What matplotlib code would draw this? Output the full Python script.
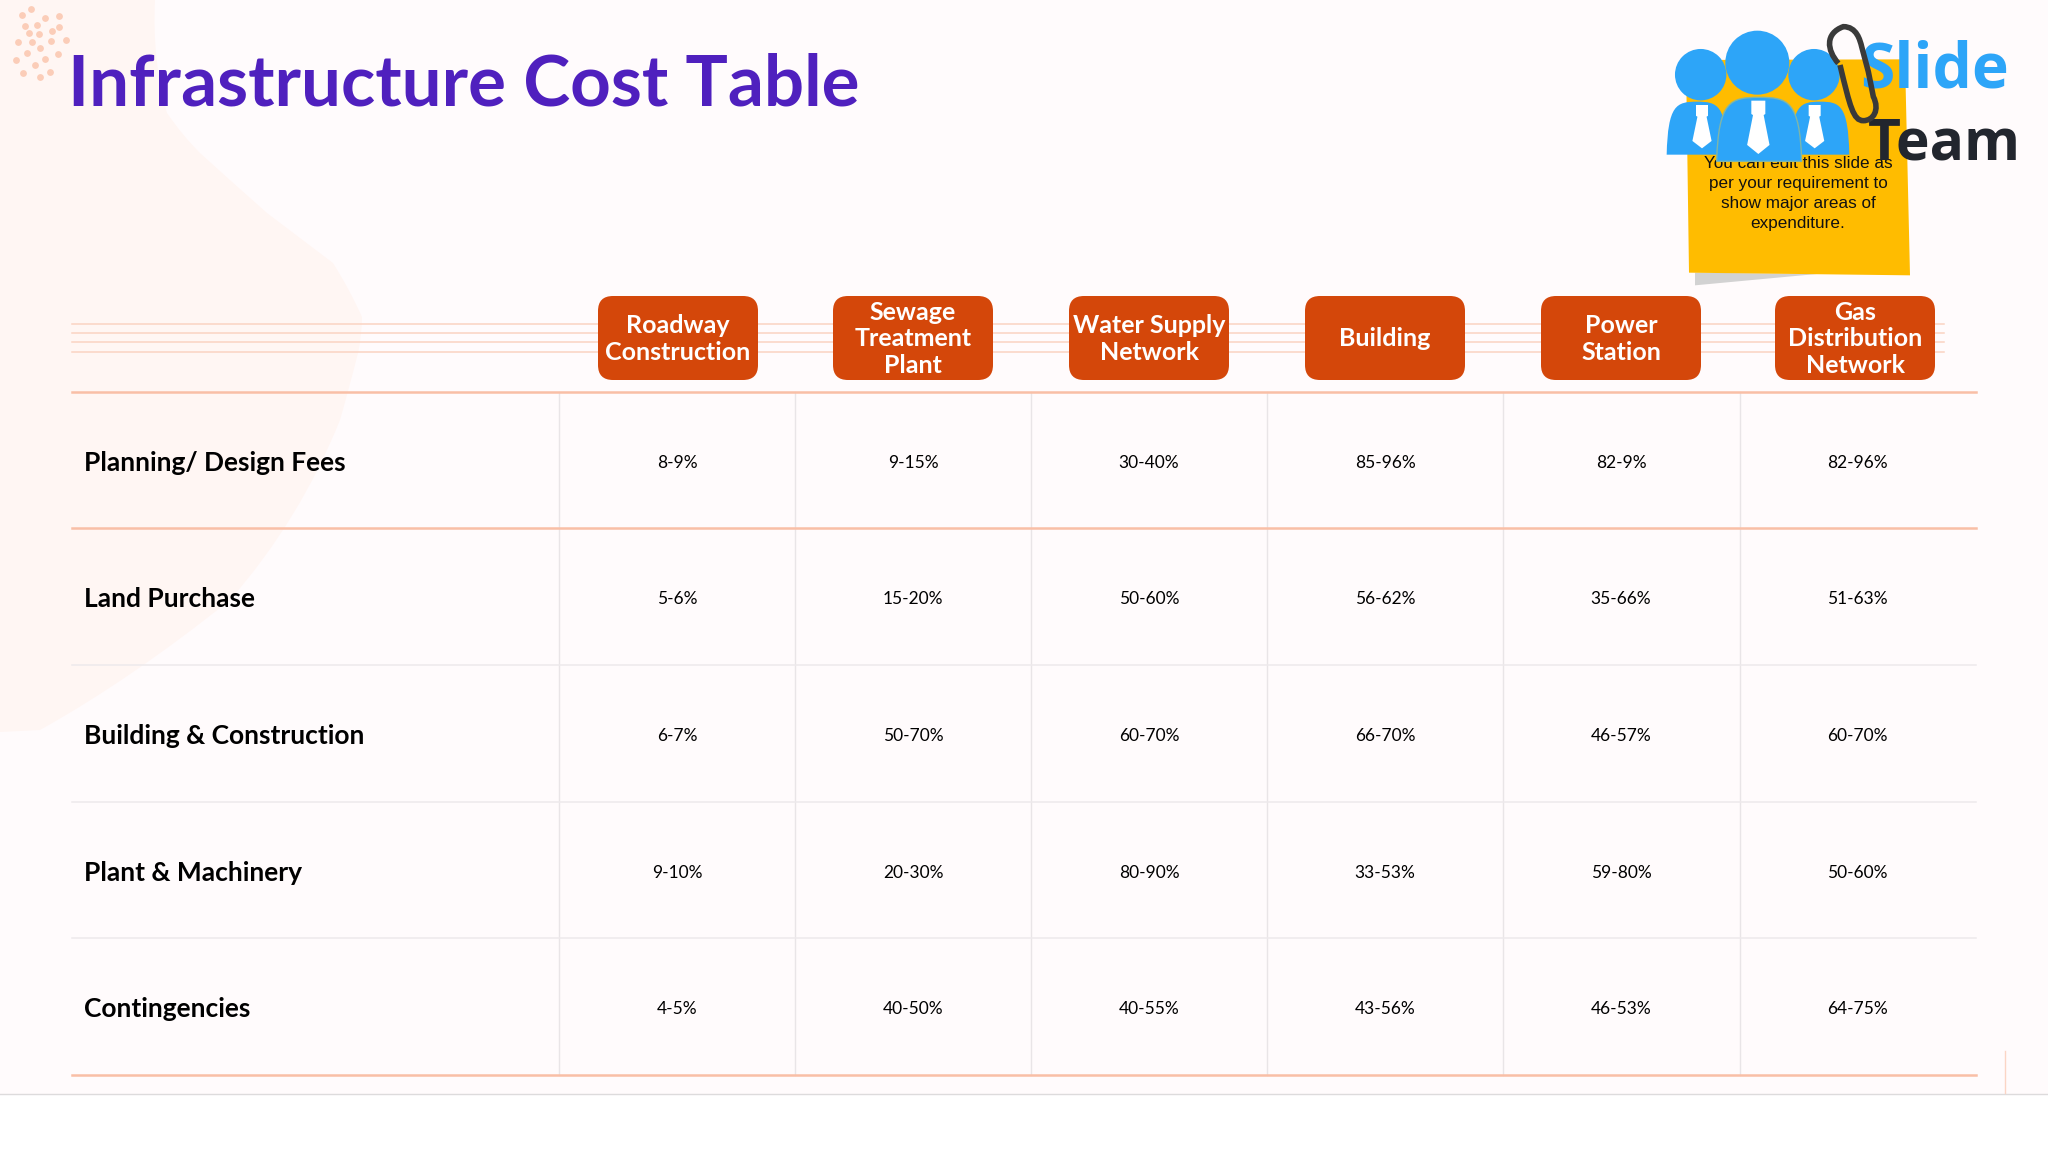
import matplotlib
matplotlib.use("Agg")
import matplotlib.pyplot as plt
from matplotlib.patches import FancyBboxPatch, PathPatch, Polygon, Circle, Rectangle
from matplotlib.path import Path

title = "Infrastructure Cost Table"
columns = ["Roadway\nConstruction", "Sewage\nTreatment\nPlant", "Water Supply\nNetwork",
           "Building", "Power\nStation", "Gas\nDistribution\nNetwork"]
rows = ["Planning/ Design Fees", "Land Purchase", "Building & Construction",
        "Plant & Machinery", "Contingencies"]
roadway = ["8-9%", "5-6%", "6-7%", "9-10%", "4-5%"]
sewage = ["9-15%", "15-20%", "50-70%", "20-30%", "40-50%"]
water = ["30-40%", "50-60%", "60-70%", "80-90%", "40-55%"]
building = ["85-96%", "56-62%", "66-70%", "33-53%", "43-56%"]
power = ["82-9%", "35-66%", "46-57%", "59-80%", "46-53%"]
gas = ["82-96%", "51-63%", "60-70%", "50-60%", "64-75%"]
note = "You can edit this slide as\nper your requirement to\nshow major areas of\nexpenditure."

# pixel layout of the slide
col_centers = [677, 913, 1149, 1385, 1621, 1857]
box_centers = [678, 913, 1149, 1385, 1621, 1855]
col_lines = [559, 795, 1031, 1267, 1503, 1740]
row_lines = [392, 528, 665, 802, 938, 1075]
row_centers = [463, 599, 736, 873, 1009]

ORANGE = "#D4470A"
LINE = "#F9BFA6"
PURPLE = "#4F20BE"
BLUE = "#2DA5F8"
GOLD = "#FFBC00"

fig = plt.figure(figsize=(20.48, 11.52), dpi=100)
ax = fig.add_axes([0, 0, 1, 1])
ax.set_xlim(0, 2048)
ax.set_ylim(1152, 0)
ax.axis("off")

# background
ax.add_patch(Rectangle((0, 0), 2048, 1094, fc="#FFFBFC", ec="none", zorder=0))
blob = [(0, 0), (155, 0), (152, 60), (167, 113), (182, 135), (200, 153), (233, 183), (267, 213),
        (300, 238), (333, 263), (350, 290), (362, 317), (362, 335), (358, 353), (350, 385), (340, 420),
        (300, 520), (230, 600), (130, 680), (40, 730), (0, 732)]
codes = [Path.MOVETO, Path.LINETO] + [Path.CURVE3] * 18 + [Path.LINETO]
ax.add_patch(PathPatch(Path(blob, codes), fc="#FFF6F3", ec="none", zorder=0.5))
ax.plot([0, 2048], [1094, 1094], color="#DDDBDC", lw=1, zorder=1)
ax.plot([2005, 2005], [1051, 1093], color="#FBD5C5", lw=1, zorder=1)

# speckle top left
dots_x = [31, 22, 45, 59, 25, 37, 59, 29, 39, 52, 18, 32, 51, 66, 40, 27, 58, 16, 45, 35, 23, 40, 50]
dots_y = [9, 15, 18, 16, 26, 25, 27, 33, 34, 31, 42, 42, 41, 40, 48, 53, 54, 60, 59, 65, 73, 77, 72]
ax.scatter(dots_x, dots_y, s=24, color="#FBCDB8", linewidths=0, zorder=1)

ax.text(68, 106, title, family="Lato", weight="bold", fontsize=51, color=PURPLE, va="baseline", ha="left", zorder=5)

# header stripes
for y in [324, 333, 342, 352]:
    ax.plot([72, 1944], [y, y], color="#FAD3C2", lw=1.1, zorder=1)

# table grid
for i, y in enumerate(row_lines):
    if i < 2 or i == 5:
        ax.plot([72, 1976], [y, y], color=LINE, lw=1.8, zorder=2)
    else:
        ax.plot([72, 1976], [y, y], color="#EEEAEC", lw=1.1, zorder=2)
for x in col_lines:
    ax.plot([x, x], [392, 1075], color="#E9E5E7", lw=1.0, zorder=1.5)

for x, label in zip(box_centers, columns):
    ax.add_patch(FancyBboxPatch((x - 80, 296), 160, 84, boxstyle="round,pad=0,rounding_size=15",
                                fc=ORANGE, ec="none", zorder=3))
    ax.text(x, 339, label, family="Lato", weight="bold", fontsize=18, color="white",
            ha="center", va="center", linespacing=1.2, zorder=4)

table = [roadway, sewage, water, building, power, gas]
for r, label in enumerate(rows):
    ax.text(84, row_centers[r], label, family="Lato", weight="bold", fontsize=19, color="black",
            ha="left", va="center", zorder=4)
    for c, series in enumerate(table):
        ax.text(col_centers[c], row_centers[r], series[r], family="Lato", fontsize=12.5, color="black",
                ha="center", va="center", zorder=4)

# sticky note
def z(x, y):
    return (1640 + x / 3, y / 3)

ax.add_patch(Polygon([z(165, 818), z(165, 856), z(530, 822)], fc="#D2D2D2", ec="none", zorder=5))
ax.add_patch(Polygon([z(138, 180), z(795, 178), z(810, 826), z(147, 818)], fc=GOLD, ec="none", zorder=5.5))
ax.text(1798, 193.5, note, family="Liberation Sans", fontsize=12.3, color="#111111", ha="center", va="center",
        linespacing=1.43, zorder=6)

# logo text
ax.text(1860, 87, "Slide", family="Open Sans", weight="bold", fontsize=45, color=BLUE, ha="left", va="baseline", zorder=7)
ax.text(1868, 160, "Team", family="Open Sans", weight="bold", fontsize=41, color="#22262E", ha="left", va="baseline", zorder=7)

# people
def body(x0, x1, top, bottom, zorder, edge="none"):
    mid = (x0 + x1) / 2
    w = x1 - x0
    h = bottom - top
    verts = [z(x0, bottom), z(x0 + w * 0.02, top + h * 0.06), z(mid - w * 0.34, top), z(mid, top),
             z(mid + w * 0.34, top), z(x1 - w * 0.02, top + h * 0.06), z(x1, bottom), z(x0, bottom)]
    c = [Path.MOVETO, Path.CURVE4, Path.CURVE4, Path.CURVE4, Path.CURVE4, Path.CURVE4, Path.CURVE4, Path.CLOSEPOLY]
    ax.add_patch(PathPatch(Path(verts, c), fc=BLUE, ec=edge, lw=1, zorder=zorder))

def tie(cx, top, h, w, zorder):
    ax.add_patch(Polygon([z(cx - w * 0.5, top), z(cx + w * 0.5, top), z(cx + w * 0.5, top + h * 0.25),
                          z(cx + w * 0.38, top + h * 0.27), z(cx + w * 0.8, top + h * 0.83), z(cx, top + h),
                          z(cx - w * 0.8, top + h * 0.83), z(cx - w * 0.38, top + h * 0.27), z(cx - w * 0.5, top + h * 0.25)],
                         fc="white", ec="none", zorder=zorder))

body(80, 262, 305, 464, 8)
body(452, 628, 305, 464, 8)
tie(186, 315, 130, 36, 8.2)
tie(524, 315, 130, 36, 8.2)
ax.add_patch(Circle(z(182, 224), 25.7, fc=BLUE, ec="none", zorder=8))
ax.add_patch(Circle(z(522, 224), 25.7, fc=BLUE, ec="none", zorder=8))
ax.add_patch(Circle(z(352, 188), 32, fc=BLUE, ec="none", zorder=8.5))
body(230, 485, 292, 484, 8.5, edge="#7FB6A8")
tie(355, 302, 160, 42, 8.7)

# paperclip
clip = [z(595, 190), z(560, 150), z(555, 100), z(610, 80), z(650, 80), z(660, 120), z(665, 140),
        z(685, 215), z(700, 290), z(720, 330), z(700, 362), z(670, 362), z(640, 362), z(630, 320), z(600, 195)]
clip_codes = [Path.MOVETO] + [Path.CURVE4] * 6 + [Path.LINETO] * 2 + [Path.CURVE4] * 5 + [Path.LINETO]
clip_codes = clip_codes[:15]
ax.add_patch(PathPatch(Path(clip, clip_codes), fc="none", ec="#3A3A3A", lw=4, zorder=9))

fig.savefig("out.png", dpi=100)
